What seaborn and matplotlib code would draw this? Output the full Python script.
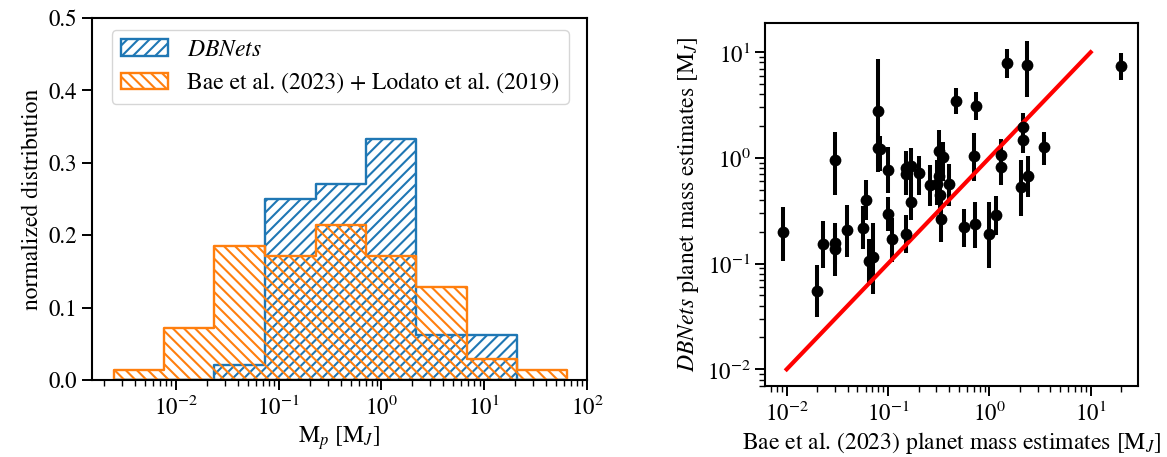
import numpy as np
import matplotlib
matplotlib.use("Agg")
import matplotlib.pyplot as plt
from matplotlib.patches import Patch
import seaborn as sns

# histogram (left panel): bin edges in M_J and normalized counts per bin
mass_bin_edges = [0.0025, 0.00769, 0.02366, 0.0738, 0.2286, 0.703, 2.163, 6.745, 20.75, 63.8]
dbnets_frac = [0.0, 0.0, 0.0208, 0.25, 0.2708, 0.3333, 0.0625, 0.0625, 0.0]
literature_frac = [0.0143, 0.0714, 0.1857, 0.1714, 0.2143, 0.1714, 0.1286, 0.0286, 0.0143]

# comparison (right panel): Bae et al. mass vs DBNets mass with error range
bae_mass = [0.0091, 0.0198, 0.023, 0.030, 0.030, 0.030, 0.039, 0.060, 0.057, 0.0655,
            0.0716, 0.0796, 0.0796, 0.0834, 0.1007, 0.1007, 0.1096, 0.1496, 0.149, 0.149,
            0.169, 0.201, 0.169, 0.26, 0.303, 0.321, 0.346, 0.331, 0.403, 0.32,
            0.325, 0.469, 0.74, 0.706, 0.566, 0.723, 0.993, 1.16, 1.486, 2.37,
            19.8, 2.14, 2.14, 3.47, 1.30, 1.30, 2.04, 2.39]
dbnets_mass = [0.198, 0.0555, 0.152, 0.957, 0.158, 0.137, 0.208, 0.40, 0.219, 0.106,
               0.116, 2.79, 1.24, 1.21, 0.771, 0.295, 0.170, 0.19, 0.80, 0.706,
               0.84, 0.716, 0.386, 0.56, 0.567, 1.17, 1.03, 0.263, 0.564, 0.68,
               0.45, 3.46, 3.11, 1.045, 0.221, 0.237, 0.19, 0.289, 7.87, 7.59,
               7.42, 1.95, 1.48, 1.28, 1.07, 0.817, 0.535, 0.676]
dbnets_low = [0.105, 0.031, 0.090, 0.447, 0.100, 0.077, 0.115, 0.26, 0.137, 0.063,
              0.052, 0.74, 0.83, 0.76, 0.464, 0.205, 0.1045, 0.125, 0.45, 0.45,
              0.47, 0.447, 0.259, 0.352, 0.36, 0.55, 0.6, 0.161, 0.351, 0.4,
              0.31, 2.59, 2.29, 0.61, 0.145, 0.14, 0.090, 0.187, 5.68, 3.8,
              5.47, 1.2, 1.11, 0.86, 0.7, 0.556, 0.283, 0.43]
dbnets_high = [0.346, 0.096, 0.254, 1.77, 0.244, 0.215, 0.359, 0.62, 0.35, 0.17,
               0.241, 8.6, 1.71, 1.6, 1.26, 0.425, 0.269, 0.289, 1.17, 1.1,
               1.25, 1.04, 0.583, 0.86, 0.95, 1.84, 1.4, 0.43, 0.87, 1.1,
               0.75, 4.56, 4.24, 1.71, 0.327, 0.386, 0.386, 0.437, 10.7, 12.9,
               9.8, 2.65, 2.0, 1.77, 1.50, 1.1, 0.957, 1.04]
one_to_one = [0.01, 10]

plt.rcParams["font.family"] = ["STIXGeneral", "DejaVu Serif"]
plt.rcParams["mathtext.fontset"] = "stix"
plt.rcParams["font.size"] = 17
plt.rcParams["xtick.labelsize"] = 16.5
plt.rcParams["ytick.labelsize"] = 16.5
plt.rcParams["axes.linewidth"] = 1.5
plt.rcParams["xtick.major.size"] = 7
plt.rcParams["ytick.major.size"] = 7
plt.rcParams["xtick.major.width"] = 1.4
plt.rcParams["ytick.major.width"] = 1.4
plt.rcParams["xtick.minor.size"] = 4
plt.rcParams["ytick.minor.size"] = 4
plt.rcParams["xtick.minor.width"] = 1.0
plt.rcParams["ytick.minor.width"] = 1.0
plt.rcParams["hatch.linewidth"] = 1.5

blue = "#1f77b4"
orange = "#ff7f0e"

fig = plt.figure(figsize=(11.67, 4.57), dpi=100)
ax1 = fig.add_axes([0.0788, 0.1685, 0.4242, 0.7921])
ax2 = fig.add_axes([0.6555, 0.1554, 0.3199, 0.7937])

edges = np.array(mass_bin_edges)
centers = np.sqrt(edges[:-1] * edges[1:])
log_edges = list(np.log10(edges))

sns.histplot(x=centers, weights=dbnets_frac, bins=log_edges, log_scale=True,
             element="step", fill=True, color=blue, facecolor="none", edgecolor=blue,
             hatch="///", linewidth=1.7, ax=ax1)
sns.histplot(x=centers, weights=literature_frac, bins=log_edges, log_scale=True,
             element="step", fill=True, color=orange, facecolor="none", edgecolor=orange,
             hatch="\\\\\\", linewidth=1.7, ax=ax1)

ax1.set_xlim(0.001524, 100)
ax1.set_ylim(0, 0.5)
ax1.set_yticks([0.0, 0.1, 0.2, 0.3, 0.4, 0.5])
ax1.set_xlabel("M$_p$ [M$_J$]")
ax1.set_ylabel("normalized distribution")

handles = [Patch(facecolor="none", edgecolor=blue, hatch="///", linewidth=1.7),
           Patch(facecolor="none", edgecolor=orange, hatch="\\\\\\", linewidth=1.7)]
ax1.legend(handles, ["$DBNets$", "Bae et al. (2023) + Lodato et al. (2019)"],
           loc="upper left", bbox_to_anchor=(0.040, 0.967), borderaxespad=0,
           fontsize=17)

# right panel
yerr = [np.array(dbnets_mass) - np.array(dbnets_low),
        np.array(dbnets_high) - np.array(dbnets_mass)]
ax2.errorbar(bae_mass, dbnets_mass, yerr=yerr, fmt="none", ecolor="black",
             elinewidth=2.9, capsize=0, zorder=2)
sns.lineplot(x=one_to_one, y=one_to_one, color="red", linewidth=3, ax=ax2, zorder=3)
sns.scatterplot(x=bae_mass, y=dbnets_mass, color="black", s=72, linewidth=0,
                ax=ax2, zorder=4)
ax2.set_xscale("log")
ax2.set_yscale("log")
ax2.set_xlim(0.00611, 29.5)
ax2.set_ylim(0.00695, 18.8)
ax2.set_xlabel("Bae et al. (2023) planet mass estimates [M$_J$]")
ax2.set_ylabel("$DBNets$ planet mass estimates [M$_J$]")

fig.savefig("out.png", dpi=100)
